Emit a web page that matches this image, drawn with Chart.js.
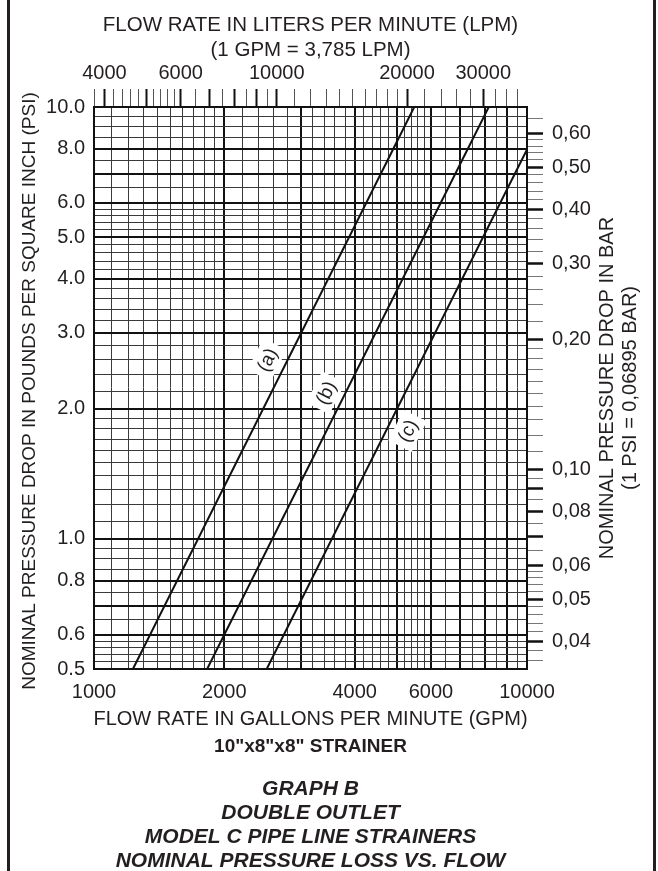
<!DOCTYPE html>
<html>
<head>
<meta charset="utf-8">
<script src="https://cdn.jsdelivr.net/npm/chart.js@4.4.1/dist/chart.umd.min.js"></script>
<style>
  html, body { margin: 0; padding: 0; background: #fff; }
  #wrap { width: 658px; height: 871px; }
</style>
</head>
<body>
<div id="wrap"><canvas id="myChart" width="658" height="871"></canvas></div>
<script>
// curve end points (GPM, PSI)
const curveA = [{x: 1230, y: 0.5}, {x: 5490, y: 10}];
const curveB = [{x: 1825, y: 0.5}, {x: 8160, y: 10}];
const curveC = [{x: 2505, y: 0.5}, {x: 10000, y: 7.97}];
const curveNames = ['(a)', '(b)', '(c)'];
const curveTags = [{x: 2510, y: 2.6}, {x: 3430, y: 2.18}, {x: 5300, y: 1.78}];

// labelled ticks on the four axes
const gpmLabels = [1000, 2000, 4000, 6000, 10000];
const psiLabels = [0.5, 0.6, 0.8, 1, 2, 3, 4, 5, 6, 8, 10];
const lpmLabels = [4000, 6000, 10000, 20000, 30000];
const barLabels = [0.04, 0.05, 0.06, 0.08, 0.1, 0.2, 0.3, 0.4, 0.5, 0.6];

const topTitle = ['FLOW RATE IN LITERS PER MINUTE (LPM)', '(1 GPM = 3,785 LPM)'];
const leftTitle = 'NOMINAL PRESSURE DROP IN POUNDS PER SQUARE INCH (PSI)';
const rightTitle = ['NOMINAL PRESSURE DROP IN BAR', '(1 PSI = 0,06895 BAR)'];
const bottomTitle = 'FLOW RATE IN GALLONS PER MINUTE (GPM)';
const sizeNote = '10"x8"x8" STRAINER';
const captionLines = ['GRAPH B', 'DOUBLE OUTLET', 'MODEL C PIPE LINE STRAINERS', 'NOMINAL PRESSURE LOSS VS. FLOW'];

// grid paper rulings
function steps(from, to, step) {
  const out = [];
  for (let v = from; v <= to + step / 1000; v += step) out.push(Math.round(v * 10000) / 10000);
  return out;
}
const gpmGrid = [...steps(1000, 2000, 100), ...steps(2200, 6000, 200), ...steps(6500, 10000, 500)];
const gpmMajor = [1000, 2000, 3000, 4000, 5000, 6000, 7000, 8000, 9000, 10000];
const psiGrid = [...steps(0.5, 0.6, 0.02), ...steps(0.65, 1, 0.05), ...steps(1.1, 2, 0.1), ...steps(2.2, 6, 0.2), ...steps(6.5, 10, 0.5)];
const psiMajor = [0.5, 0.6, 0.7, 0.8, 1, 2, 3, 4, 5, 6, 7, 8, 10];
const lpmTicks = [...steps(3800, 6000, 200), ...steps(6500, 10000, 500), ...steps(11000, 20000, 1000), ...steps(22000, 36000, 2000)];
const lpmMajor = [4000, 5000, 6000, 7000, 8000, 9000, 10000, 20000, 30000];
const barTicks = [...steps(0.036, 0.06, 0.002), ...steps(0.065, 0.1, 0.005), ...steps(0.11, 0.2, 0.01), ...steps(0.22, 0.6, 0.02), 0.65];
const barMajor = [0.04, 0.05, 0.06, 0.07, 0.08, 0.09, 0.1, 0.2, 0.3, 0.4, 0.5, 0.6];

const GPM_TO_LPM = 3.785;
const PSI_TO_BAR = 0.06895;
const family = "'Liberation Sans', Arial, Helvetica, sans-serif";
const ink = '#231f20';

const has = (arr, v) => arr.some(a => Math.abs(a - v) < 1e-6 * Math.max(1, a));
const isMajor = (arr) => (c) => c.tick && has(arr, c.tick.value);

const paperText = {
  id: 'paperText',
  beforeDatasetsDraw(chart) {
    // curve tags sit on white patches beside the lines
    const ctx = chart.ctx, xs = chart.scales.x, ys = chart.scales.y;
    ctx.save();
    ctx.font = `19px ${family}`;
    ctx.textAlign = 'center';
    ctx.textBaseline = 'middle';
    chart.data.datasets.forEach((ds, i) => {
      const p1 = ds.data[0], p2 = ds.data[ds.data.length - 1];
      const ang = Math.atan2(ys.getPixelForValue(p2.y) - ys.getPixelForValue(p1.y),
                             xs.getPixelForValue(p2.x) - xs.getPixelForValue(p1.x));
      const px = xs.getPixelForValue(curveTags[i].x), py = ys.getPixelForValue(curveTags[i].y);
      ctx.save();
      ctx.translate(px, py);
      ctx.rotate(ang);
      const w = ctx.measureText(curveNames[i]).width;
      ctx.fillStyle = '#fff';
      ctx.fillRect(-w / 2 - 6, -13, w + 12, 26);
      ctx.fillStyle = ink;
      ctx.fillText(curveNames[i], 0, 1);
      ctx.restore();
    });
    ctx.restore();
  },
  afterDraw(chart) {
    const ctx = chart.ctx, a = chart.chartArea;
    const cx = (a.left + a.right) / 2, cy = (a.top + a.bottom) / 2;
    ctx.save();
    ctx.fillStyle = ink;
    ctx.textAlign = 'center';
    ctx.textBaseline = 'middle';
    ctx.font = `20.5px ${family}`;
    ctx.fillText(topTitle[0], cx, 25);
    ctx.fillText(topTitle[1], cx, 50);
    ctx.font = `20px ${family}`;
    ctx.fillText(bottomTitle, cx, 719);

    ctx.save();
    ctx.translate(30, cy + 3);
    ctx.rotate(-Math.PI / 2);
    ctx.font = `19px ${family}`;
    ctx.fillText(leftTitle, 0, 0);
    ctx.restore();

    ctx.save();
    ctx.translate(607, cy);
    ctx.rotate(-Math.PI / 2);
    ctx.fillText(rightTitle[0], 0, 0);
    ctx.fillText(rightTitle[1], 0, 23);
    ctx.restore();

    ctx.font = `bold 19px ${family}`;
    ctx.fillText(sizeNote, cx, 747);
    ctx.font = `italic bold 21px ${family}`;
    captionLines.forEach((t, i) => ctx.fillText(t, cx, 789 + i * 24));

    // page frame
    ctx.fillRect(7, 0, 3, 871);
    ctx.fillRect(653, 0, 3, 871);
    ctx.restore();
  }
};

const ctx = document.getElementById('myChart').getContext('2d');
const chart = new Chart(ctx, {
  type: 'scatter',
  data: {
    datasets: [curveA, curveB, curveC].map((pts, i) => ({
      label: curveNames[i],
      data: pts,
      showLine: true,
      borderColor: '#111',
      borderWidth: 2,
      pointRadius: 0,
      xAxisID: 'x',
      yAxisID: 'y'
    }))
  },
  options: {
    responsive: false,
    animation: false,
    layout: { padding: 0 },
    plugins: { legend: { display: false }, tooltip: { enabled: false } },
    scales: {
      x: {
        type: 'logarithmic', position: 'bottom', min: 1000, max: 10000,
        afterBuildTicks: s => { s.ticks = gpmGrid.map(v => ({ value: v })); },
        afterFit: s => { s.height = 202; },
        grid: {
          drawTicks: false,
          color: c => isMajor(gpmMajor)(c) ? '#111' : '#3a3a3a',
          lineWidth: c => isMajor(gpmMajor)(c) ? 2 : 1
        },
        border: { color: '#111', width: 2 },
        ticks: {
          autoSkip: false, maxRotation: 0, padding: 11, color: ink,
          font: { family: family, size: 20 },
          callback: v => has(gpmLabels, v) ? String(v) : ''
        }
      },
      x2: {
        type: 'logarithmic', position: 'top',
        min: 1000 * GPM_TO_LPM, max: 10000 * GPM_TO_LPM,
        afterBuildTicks: s => { s.ticks = lpmTicks.map(v => ({ value: v })); },
        afterFit: s => { s.height = 107; },
        grid: {
          drawOnChartArea: false, tickLength: 18,
          tickColor: c => isMajor(lpmMajor)(c) ? '#111' : '#555',
          tickWidth: c => isMajor(lpmMajor)(c) ? 2 : 1
        },
        border: { color: '#111', width: 2 },
        ticks: {
          autoSkip: false, maxRotation: 0, padding: 4, color: ink,
          font: { family: family, size: 20 },
          callback: v => has(lpmLabels, v) ? String(v) : ''
        }
      },
      y: {
        type: 'logarithmic', position: 'left', min: 0.5, max: 10,
        afterBuildTicks: s => { s.ticks = psiGrid.map(v => ({ value: v })); },
        afterFit: s => { s.width = 94; },
        grid: {
          drawTicks: false,
          color: c => isMajor(psiMajor)(c) ? '#111' : '#3a3a3a',
          lineWidth: c => isMajor(psiMajor)(c) ? 2 : 1
        },
        border: { color: '#111', width: 2 },
        ticks: {
          autoSkip: false, padding: 9, color: ink,
          font: { family: family, size: 20 },
          callback: v => has(psiLabels, v) ? v.toFixed(1) : ''
        }
      },
      y2: {
        type: 'logarithmic', position: 'right',
        min: 0.5 * PSI_TO_BAR, max: 10 * PSI_TO_BAR,
        afterBuildTicks: s => { s.ticks = barTicks.map(v => ({ value: v })); },
        afterFit: s => { s.width = 131; },
        grid: {
          drawOnChartArea: false, tickLength: 16,
          tickColor: c => isMajor(barMajor)(c) ? '#111' : '#777',
          tickWidth: c => isMajor(barMajor)(c) ? 2.5 : 1
        },
        border: { color: '#111', width: 2 },
        ticks: {
          autoSkip: false, padding: 9, color: ink,
          font: { family: family, size: 20 },
          callback: v => has(barLabels, v) ? v.toFixed(2).replace('.', ',') : ''
        }
      }
    }
  },
  plugins: [paperText]
});
</script>
</body>
</html>
